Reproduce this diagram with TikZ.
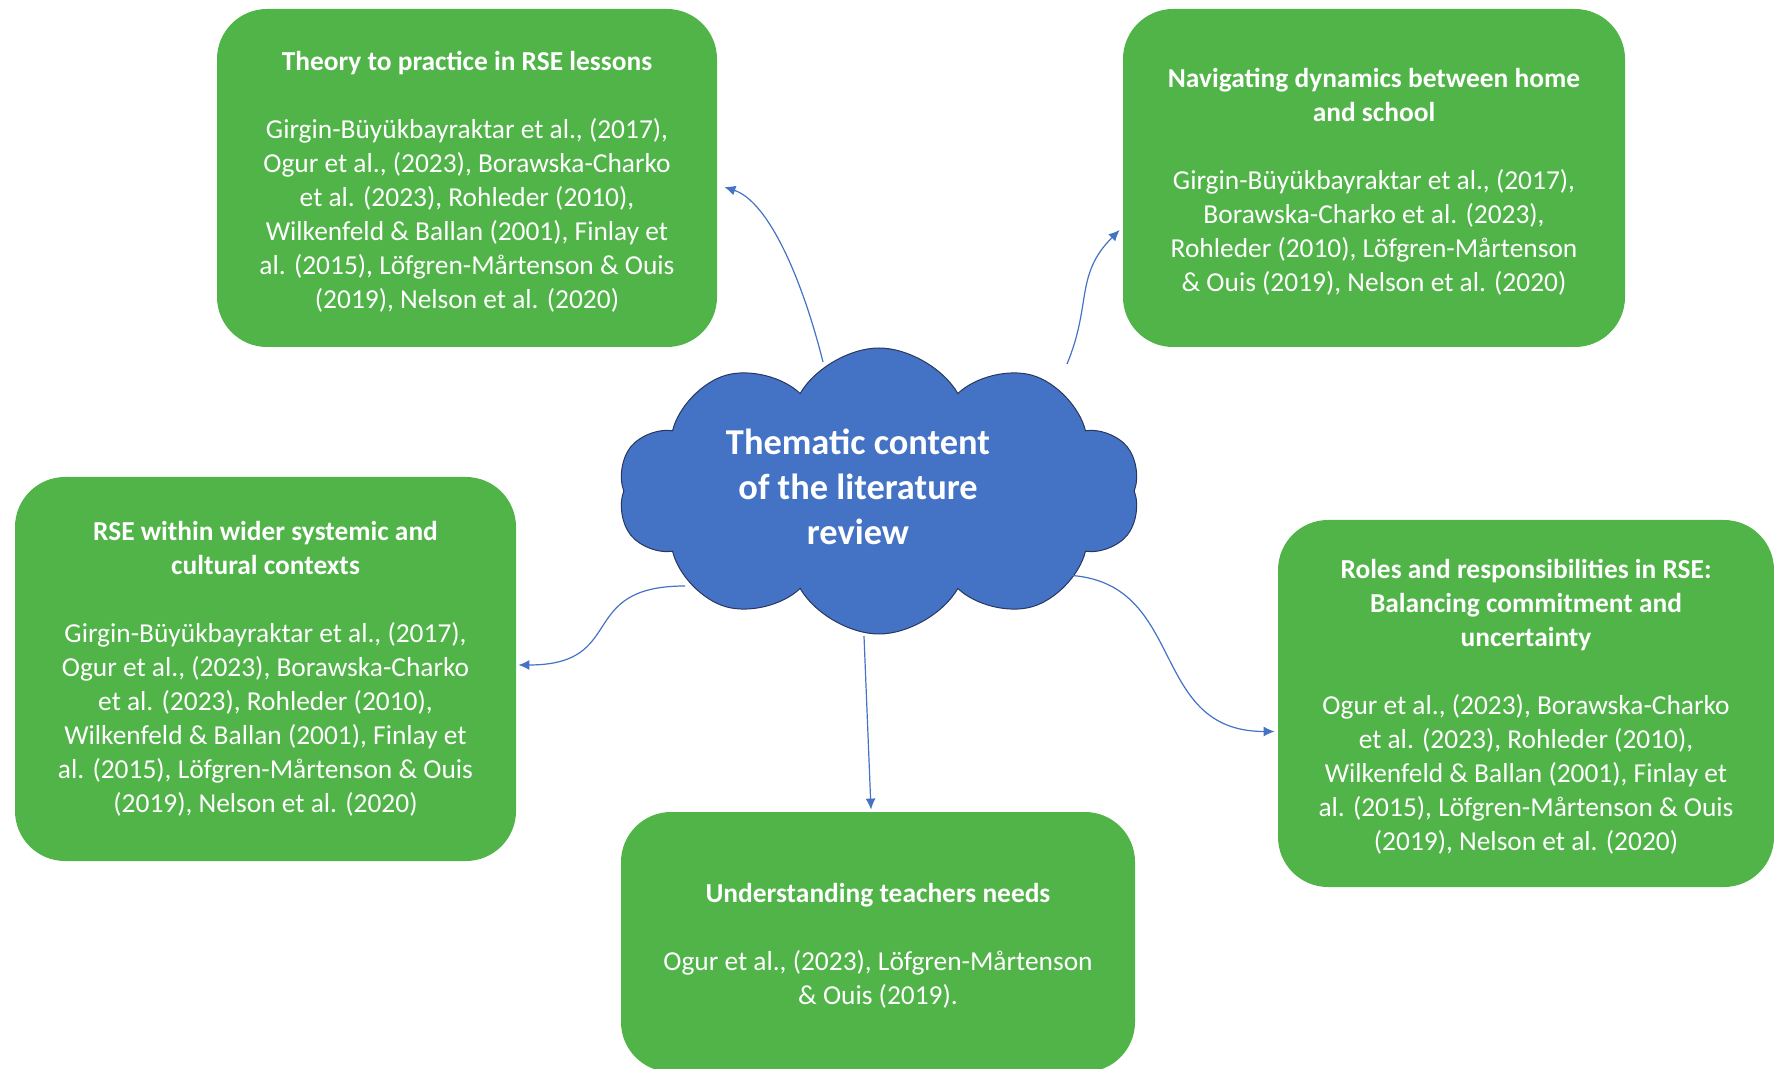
\documentclass[tikz,border=0pt]{standalone}
\usepackage{fontspec}
\setmainfont{Carlito}
\usepackage{xcolor}
\usetikzlibrary{arrows.meta, shapes.symbols, calc}
\definecolor{themegreen}{RGB}{80,180,72}
\definecolor{hubblue}{RGB}{68,114,196}
\definecolor{hubline}{RGB}{40,55,95}
\newcommand{\topgap}{\rule{0pt}{13.3pt}}

\begin{document}
\begin{tikzpicture}[
  x=0.5pt, y=-0.5pt,
  theme/.style={rounded corners=25pt, fill=themegreen, text=white, align=center, inner sep=0pt, font=\fontsize{13.7}{17}\selectfont},
  hub/.style={cloud, cloud puffs=10, cloud puff arc=120, aspect=1.8, draw=hubline, line width=0.5pt, fill=hubblue, inner sep=0pt, minimum width=261pt, minimum height=143pt},
  hubtitle/.style={text=white, align=center, inner sep=0pt, font=\fontsize{18.2}{22.5}\selectfont\bfseries},
  link/.style={-{Latex[length=5.5pt,width=5pt]}, draw=hubblue, line width=0.6pt}
]
\useasboundingbox (0,0) rectangle (1774,1069);

% centre
\node[hub] (hub) at (879,491) {};
\node[hubtitle] (hubtitle) at ($(hub.center)+(-21,-4)$) {Thematic content\\of the literature\\review};

% themes
\node[theme, minimum width=250pt, minimum height=169pt] (theory) at (467,178)
  {\topgap\textbf{Theory to practice in RSE lessons}\\[17pt]Girgin-Büyükbayraktar et al., (2017),\\Ogur et al., (2023), Borawska-Charko\\et al. (2023), Rohleder (2010),\\Wilkenfeld \& Ballan (2001), Finlay et\\al. (2015), Löfgren-Mårtenson \& Ouis\\(2019), Nelson et al. (2020)};
\node[theme, minimum width=251pt, minimum height=169pt] (homeschool) at (1374,178)
  {\topgap\textbf{Navigating dynamics between home}\\\textbf{and school}\\[17pt]Girgin-Büyükbayraktar et al., (2017),\\Borawska-Charko et al. (2023),\\Rohleder (2010), Löfgren-Mårtenson\\\& Ouis (2019), Nelson et al. (2020)};
\node[theme, minimum width=250.5pt, minimum height=192pt] (contexts) at (265.5,669)
  {\textbf{RSE within wider systemic and}\\\textbf{cultural contexts}\\[17pt]Girgin-Büyükbayraktar et al., (2017),\\Ogur et al., (2023), Borawska-Charko\\et al. (2023), Rohleder (2010),\\Wilkenfeld \& Ballan (2001), Finlay et\\al. (2015), Löfgren-Mårtenson \& Ouis\\(2019), Nelson et al. (2020)};
\node[theme, minimum width=248pt, minimum height=183.5pt] (roles) at (1526,703.5)
  {\topgap\textbf{Roles and responsibilities in RSE:}\\\textbf{Balancing commitment and}\\\textbf{uncertainty}\\[17pt]Ogur et al., (2023), Borawska-Charko\\et al. (2023), Rohleder (2010),\\Wilkenfeld \& Ballan (2001), Finlay et\\al. (2015), Löfgren-Mårtenson \& Ouis\\(2019), Nelson et al. (2020)};
\node[theme, minimum width=257pt, minimum height=130pt] (needs) at (878,942)
  {\topgap\textbf{Understanding teachers needs}\\[17pt]Ogur et al., (2023), Löfgren-Mårtenson\\\& Ouis (2019).};

% links
\draw[link] ($(hub.center)+(-56,-129)$) .. controls +(-20,-80) and +(45,15) .. ($(theory.east)+(7,9)$);
\draw[link] ($(hub.center)+(188,-127)$) .. controls +(25,-60) and +(-45,45) .. ($(homeschool.west)+(-3,52)$);
\draw[link] ($(hub.center)+(-194,95)$) .. controls +(-110,0) and +(110,0) .. ($(contexts.east)+(2,-4)$);
\draw[link] ($(hub.center)+(181,84)$) .. controls +(130,0) and +(-130,0) .. ($(roles.west)+(-3,28)$);
\draw[link] ($(hub.center)+(-15,145)$) -- ($(needs.north)+(-7,-2)$);
\end{tikzpicture}
\end{document}
